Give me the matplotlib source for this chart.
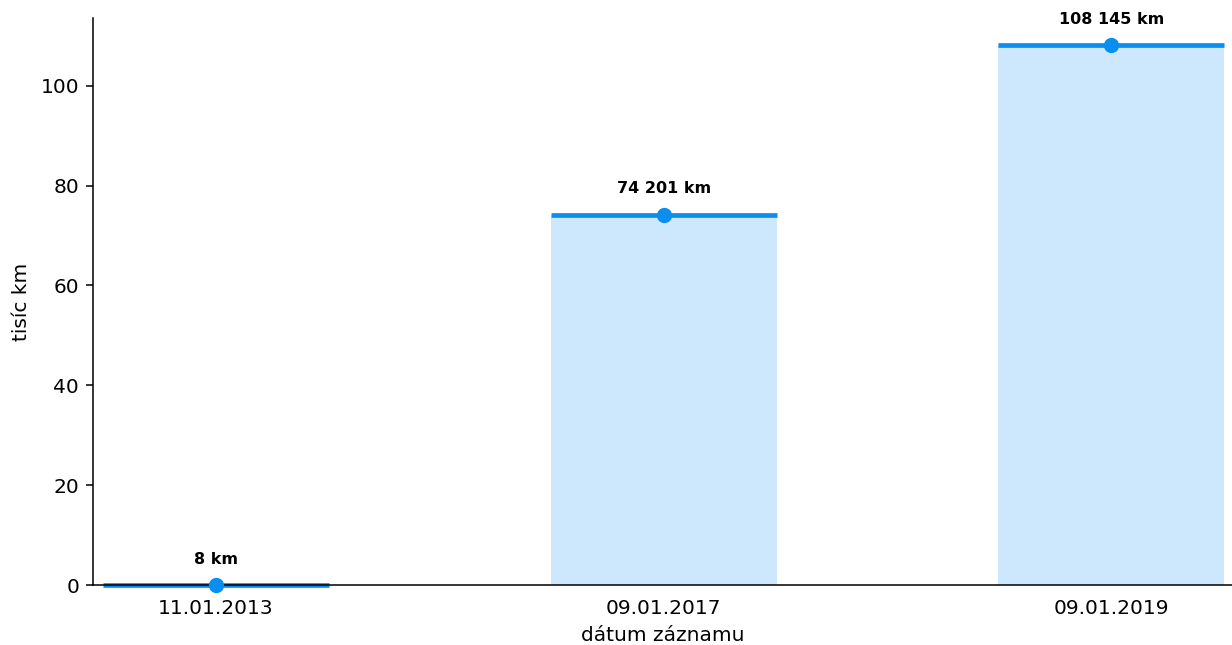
import numpy as np
import matplotlib
matplotlib.use("Agg")
import matplotlib.pyplot as plt

dates = ["11.01.2013", "09.01.2017", "09.01.2019"]
km = [8, 74201, 108145]

fill_color = "#cde8fc"
line_color = "#0a8ef0"

values = np.array(km) / 1000.0
x = np.arange(len(dates))

fig = plt.figure(figsize=(12.32, 6.45), dpi=100)
ax = fig.add_axes([0.0755, 0.093, 0.9245, 0.879])

ax.bar(x, values, width=0.505, color=fill_color, zorder=1)
ax.hlines(values, x - 0.2525, x + 0.2525, color=line_color, linewidth=3.4,
          zorder=2, clip_on=False)
ax.plot(x, values, "o", color=line_color, markersize=10, zorder=5, clip_on=False)

for xi, v, k in zip(x, values, km):
    label = "{:,}".format(k).replace(",", " ") + " km"
    ax.annotate(label, (xi, v), xytext=(0, 13), textcoords="offset points",
                ha="center", va="bottom", fontsize=11.5, fontweight="bold")

ax.set_xlim(-0.275, 2.27)
ax.set_ylim(0, values.max() * 1.05)
ax.set_xticks(x)
ax.set_xticklabels(dates)
ax.set_yticks(np.arange(0, 101, 20))
ax.tick_params(axis="x", length=0, pad=10, labelsize=14.5)
ax.tick_params(axis="y", length=5, width=1.1, pad=5, labelsize=14.5)
ax.set_xlabel("dátum záznamu", fontsize=14.5, labelpad=6)
ax.set_ylabel("tisíc km", fontsize=14.5, labelpad=7)

for side in ["top", "right"]:
    ax.spines[side].set_visible(False)
for side in ["left", "bottom"]:
    ax.spines[side].set_linewidth(1.1)
ax.spines["bottom"].set_zorder(4)

fig.savefig("out.png", dpi=100)
